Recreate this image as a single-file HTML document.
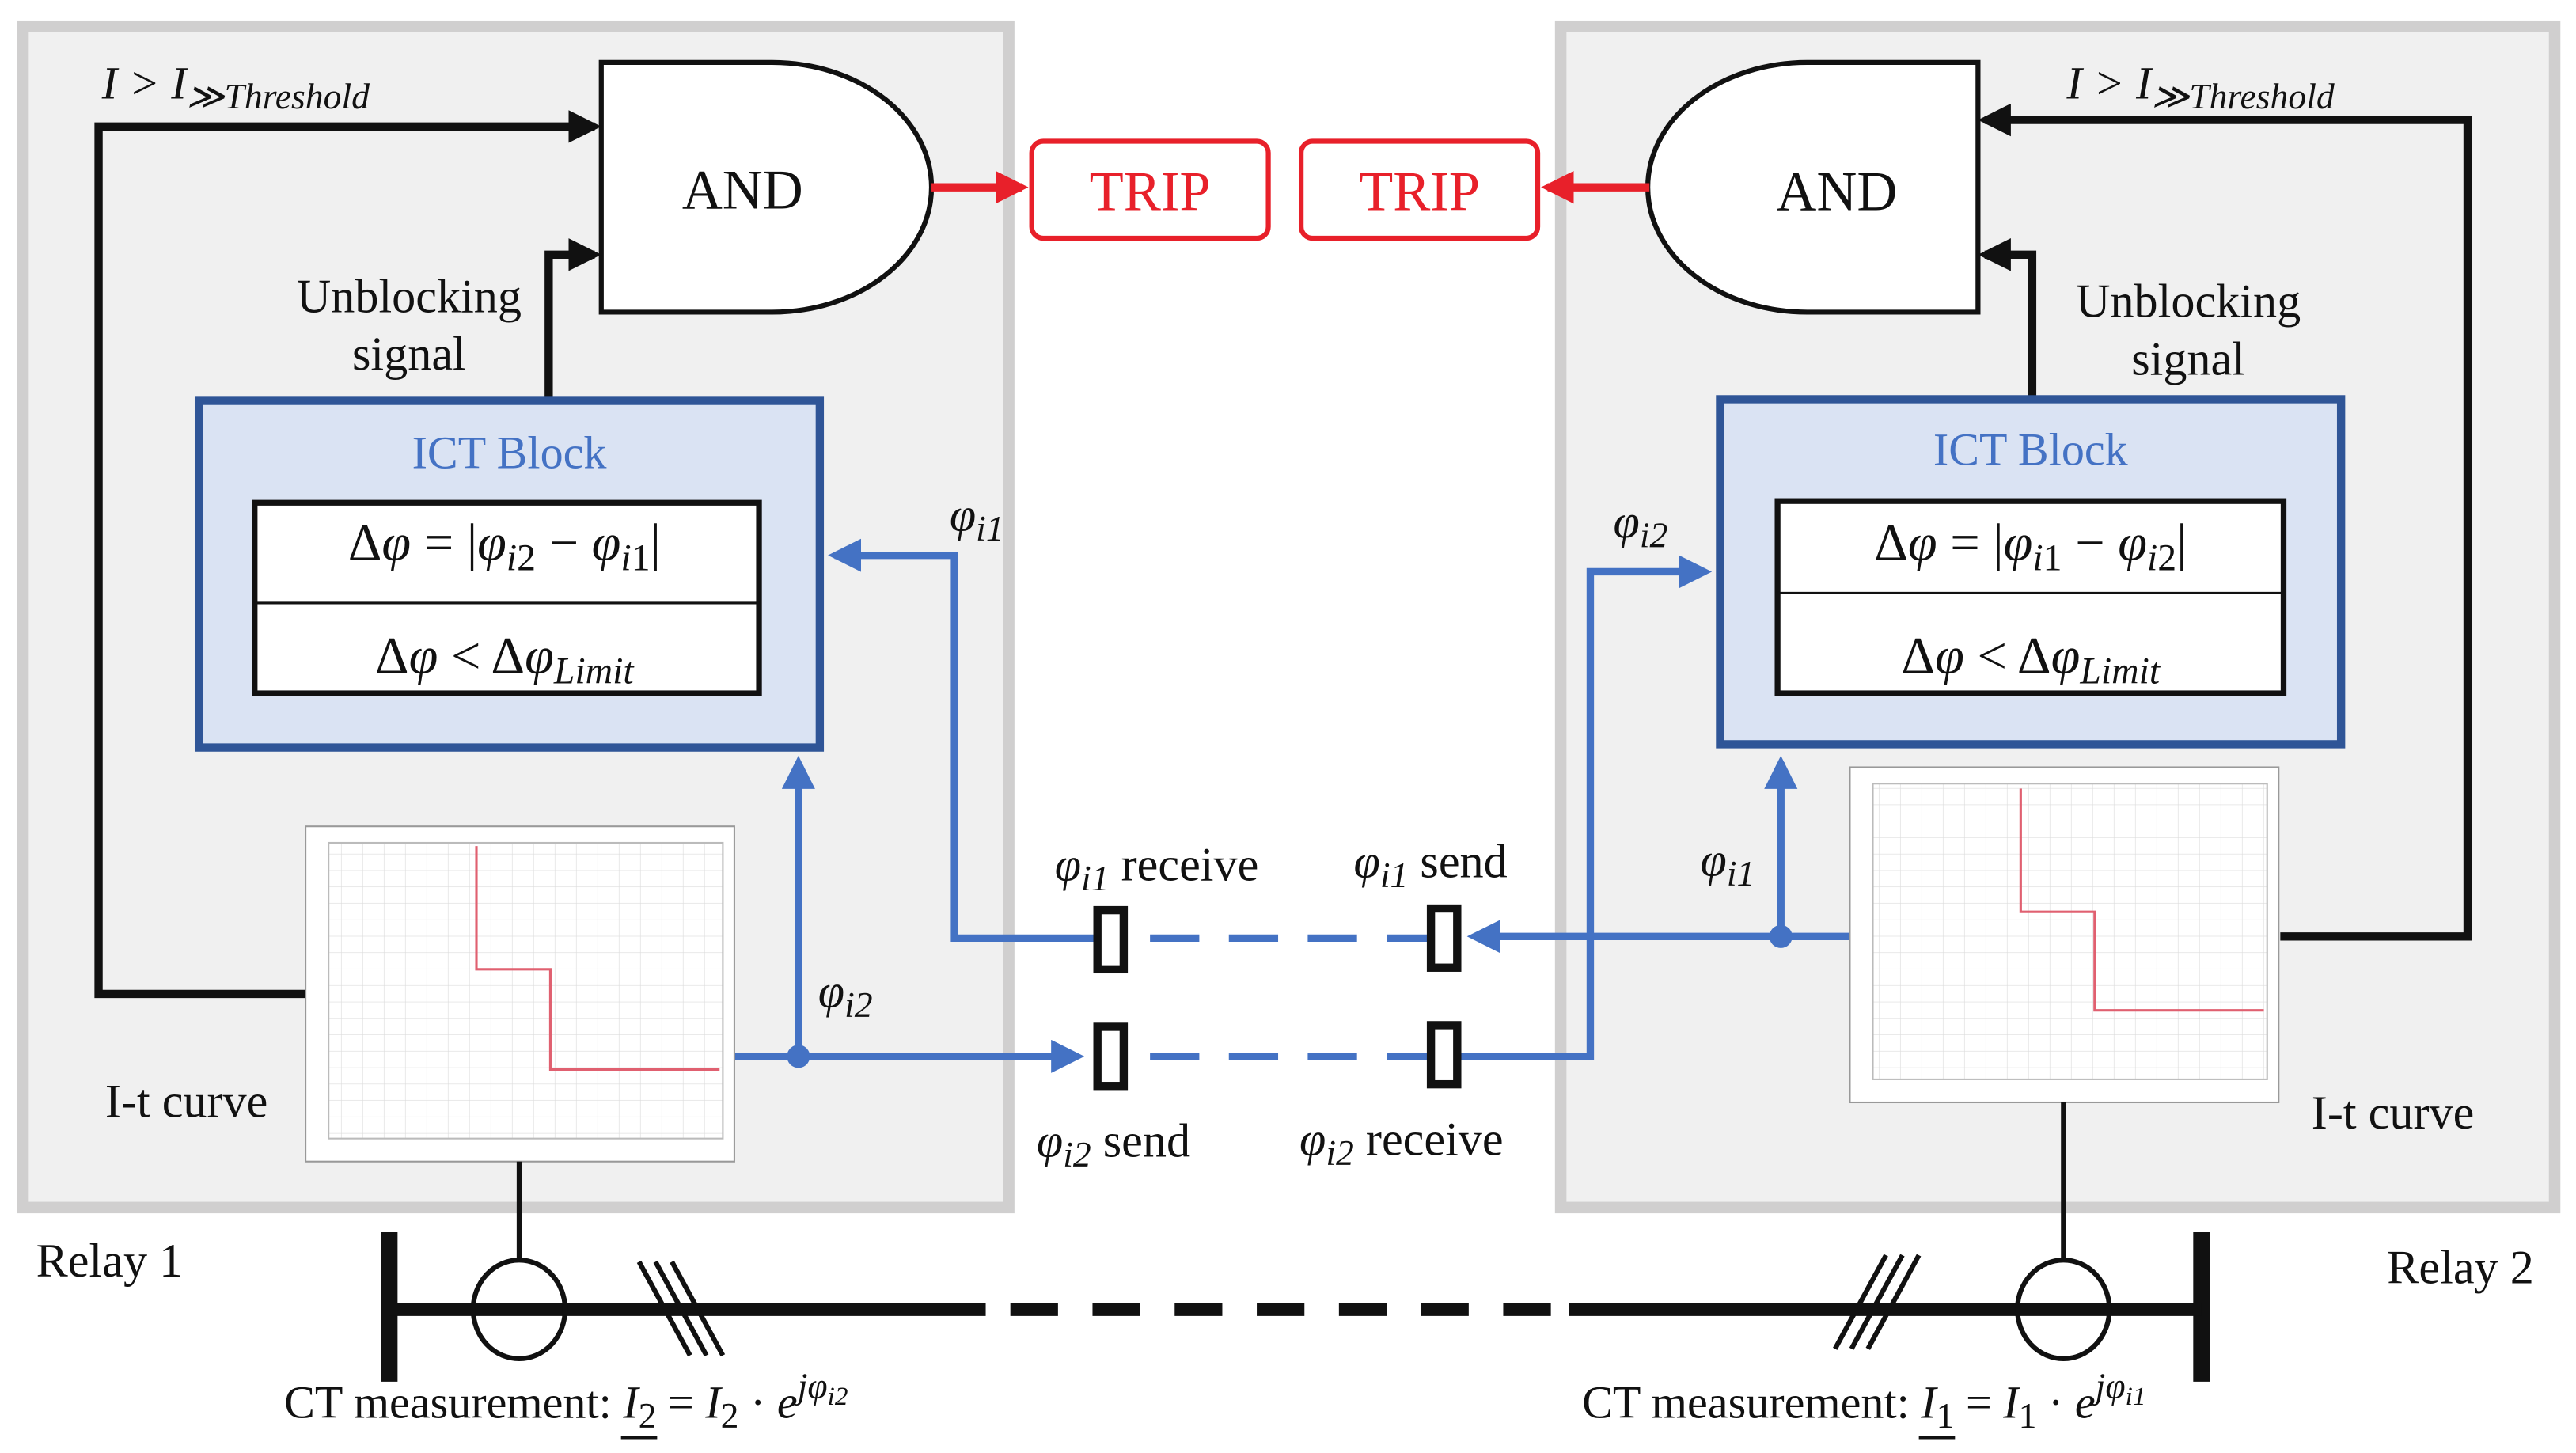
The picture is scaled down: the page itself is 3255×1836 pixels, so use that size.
<!DOCTYPE html>
<html><head><meta charset="utf-8"><style>
html,body{margin:0;padding:0;background:#fff}
svg{display:block}
text{font-family:"Liberation Serif",serif;fill:#111}
.it{font-style:italic}
</style></head><body>
<svg width="3255" height="1836" viewBox="0 0 1568 884.4" preserveAspectRatio="none" xmlns="http://www.w3.org/2000/svg">
<defs>
<marker id="ab" markerWidth="4" markerHeight="4" refX="3.2" refY="2" orient="auto" markerUnits="strokeWidth"><path d="M0,0L4,2L0,4z" fill="#111"/></marker>
<marker id="abl" markerWidth="4.5" markerHeight="4.5" refX="3.6" refY="2.25" orient="auto" markerUnits="strokeWidth"><path d="M0,0L4.5,2.25L0,4.5z" fill="#4472c4"/></marker>
<marker id="ar" markerWidth="4" markerHeight="4" refX="3.2" refY="2" orient="auto" markerUnits="strokeWidth"><path d="M0,0L4,2L0,4z" fill="#e8202a"/></marker>
<pattern id="grid" width="13" height="10" patternUnits="userSpaceOnUse"><path d="M13,0V10M0,10H13" stroke="#dcdcdc" stroke-width="0.6" fill="none"/></pattern>
</defs>
<rect x="14" y="16" width="600" height="719" fill="#f0f0f0" stroke="#d0cfcf" stroke-width="7"/>
<rect x="950" y="16" width="605" height="719" fill="#f0f0f0" stroke="#d0cfcf" stroke-width="7"/>

<polyline points="186,605 60,605 60,77 362,77" fill="none" stroke="#111" stroke-width="5" marker-end="url(#ab)"/>
<polyline points="334,243 334,155 362,155" fill="none" stroke="#111" stroke-width="5" marker-end="url(#ab)"/>
<polyline points="1388,570 1502,570 1502,73 1208,73" fill="none" stroke="#111" stroke-width="5" marker-end="url(#ab)"/>
<polyline points="1237,243 1237,155 1208,155" fill="none" stroke="#111" stroke-width="5" marker-end="url(#ab)"/>

<path d="M366,38H470A97,76 0 0 1 470,190H366Z" fill="#fff" stroke="#111" stroke-width="3"/>
<text x="452" y="127" font-size="34" text-anchor="middle">AND</text>
<path d="M1204,38H1100A97,76 0 0 0 1100,190H1204Z" fill="#fff" stroke="#111" stroke-width="3"/>
<text x="1118" y="128" font-size="34" text-anchor="middle">AND</text>

<line x1="567" y1="114" x2="622" y2="114" stroke="#e8202a" stroke-width="5" marker-end="url(#ar)"/>
<rect x="628" y="86" width="144" height="59" rx="7" fill="#fff" stroke="#e8202a" stroke-width="3"/>
<text x="700" y="128" font-size="34" text-anchor="middle" style="fill:#e8202a">TRIP</text>
<line x1="1004" y1="114" x2="942" y2="114" stroke="#e8202a" stroke-width="5" marker-end="url(#ar)"/>
<rect x="792" y="86" width="144" height="59" rx="7" fill="#fff" stroke="#e8202a" stroke-width="3"/>
<text x="864" y="128" font-size="34" text-anchor="middle" style="fill:#e8202a">TRIP</text>

<text x="62" y="60" font-size="28" class="it">I &gt; I<tspan font-size="22" dy="6">≫Threshold</tspan></text>
<text x="1258" y="60" font-size="28" class="it">I &gt; I<tspan font-size="22" dy="6">≫Threshold</tspan></text>
<text x="249" y="190" font-size="29" text-anchor="middle">Unblocking</text>
<text x="249" y="225" font-size="29" text-anchor="middle">signal</text>
<text x="1332" y="193" font-size="29" text-anchor="middle">Unblocking</text>
<text x="1332" y="228" font-size="29" text-anchor="middle">signal</text>

<rect x="121" y="244" width="378" height="211" fill="#dae3f3" stroke="#2f5597" stroke-width="5"/>
<text x="310" y="285" font-size="28" text-anchor="middle" style="fill:#4472c4">ICT Block</text>
<rect x="155" y="306" width="307" height="116" fill="#fff" stroke="#111" stroke-width="3.5"/>
<line x1="155" y1="367" x2="462" y2="367" stroke="#111" stroke-width="1.5"/>
<text x="307" y="341" font-size="32" text-anchor="middle">Δ<tspan class="it">φ</tspan> = |<tspan class="it">φ</tspan><tspan class="it" font-size="23" dy="6">i</tspan><tspan font-size="23">2</tspan><tspan dy="-6"> − </tspan><tspan class="it">φ</tspan><tspan class="it" font-size="23" dy="6">i</tspan><tspan font-size="23">1</tspan><tspan dy="-6">|</tspan></text>
<text x="307" y="410" font-size="32" text-anchor="middle">Δ<tspan class="it">φ</tspan> &lt; Δ<tspan class="it">φ</tspan><tspan class="it" font-size="23" dy="6">Limit</tspan></text>

<rect x="1047" y="243" width="378" height="210" fill="#dae3f3" stroke="#2f5597" stroke-width="5"/>
<text x="1236" y="283" font-size="28" text-anchor="middle" style="fill:#4472c4">ICT Block</text>
<rect x="1082" y="305" width="308" height="117" fill="#fff" stroke="#111" stroke-width="3.5"/>
<line x1="1082" y1="361" x2="1390" y2="361" stroke="#111" stroke-width="1.5"/>
<text x="1236" y="341" font-size="32" text-anchor="middle">Δ<tspan class="it">φ</tspan> = |<tspan class="it">φ</tspan><tspan class="it" font-size="23" dy="6">i</tspan><tspan font-size="23">1</tspan><tspan dy="-6"> − </tspan><tspan class="it">φ</tspan><tspan class="it" font-size="23" dy="6">i</tspan><tspan font-size="23">2</tspan><tspan dy="-6">|</tspan></text>
<text x="1236" y="410" font-size="32" text-anchor="middle">Δ<tspan class="it">φ</tspan> &lt; Δ<tspan class="it">φ</tspan><tspan class="it" font-size="23" dy="6">Limit</tspan></text>

<g stroke="#4472c4" stroke-width="4.5" fill="none">
<polyline points="667,571 581,571 581,338 508,338" marker-end="url(#abl)"/>
<polyline points="447,643 656,643" marker-end="url(#abl)"/>
<polyline points="486,643 486,464" marker-end="url(#abl)"/>
<polyline points="1127,570 897,570" marker-end="url(#abl)"/>
<polyline points="1084,570 1084,464" marker-end="url(#abl)"/>
<polyline points="889,643 968,643 968,348 1038,348" marker-end="url(#abl)"/>
<line x1="686" y1="571" x2="869" y2="571" stroke-dasharray="30,18" stroke-dashoffset="-14"/>
<line x1="686" y1="643" x2="869" y2="643" stroke-dasharray="30,18" stroke-dashoffset="-14"/>
</g>
<circle cx="486" cy="643" r="7" fill="#4472c4"/>
<circle cx="1084" cy="570" r="7" fill="#4472c4"/>
<g fill="#fff" stroke="#111" stroke-width="5">
<rect x="668" y="554" width="16" height="36"/>
<rect x="668" y="625" width="16" height="36"/>
<rect x="871" y="553" width="16" height="36"/>
<rect x="871" y="624" width="16" height="36"/>
</g>
<g font-size="29">
<text x="578" y="323" class="it">φ<tspan font-size="22" dy="6">i1</tspan></text>
<text x="498" y="613" class="it">φ<tspan font-size="22" dy="6">i2</tspan></text>
<text x="982" y="327" class="it">φ<tspan font-size="22" dy="6">i2</tspan></text>
<text x="1035" y="533" class="it">φ<tspan font-size="22" dy="6">i1</tspan></text>
<text x="642" y="536"><tspan class="it">φ</tspan><tspan class="it" font-size="22" dy="6">i1</tspan><tspan dy="-6"> receive</tspan></text>
<text x="824" y="534"><tspan class="it">φ</tspan><tspan class="it" font-size="22" dy="6">i1</tspan><tspan dy="-6"> send</tspan></text>
<text x="631" y="704"><tspan class="it">φ</tspan><tspan class="it" font-size="22" dy="6">i2</tspan><tspan dy="-6"> send</tspan></text>
<text x="791" y="703"><tspan class="it">φ</tspan><tspan class="it" font-size="22" dy="6">i2</tspan><tspan dy="-6"> receive</tspan></text>
<text x="64" y="680">I-t curve</text>
<text x="1407" y="687">I-t curve</text>
<text x="22" y="777">Relay 1</text>
<text x="1453" y="781">Relay 2</text>
</g>

<rect x="186" y="503" width="261" height="204" fill="#fff" stroke="#999" stroke-width="1"/>
<rect x="200" y="513" width="240" height="180" fill="url(#grid)" stroke="#bbb" stroke-width="1"/>
<polyline points="290,515 290,590 335,590 335,651 438,651" fill="none" stroke="#e06070" stroke-width="1.5"/>
<rect x="1126" y="467" width="261" height="204" fill="#fff" stroke="#999" stroke-width="1"/>
<rect x="1140" y="477" width="240" height="180" fill="url(#grid)" stroke="#bbb" stroke-width="1"/>
<polyline points="1230,480 1230,555 1275,555 1275,615 1378,615" fill="none" stroke="#e06070" stroke-width="1.5"/>

<g stroke="#111" fill="none">
<line x1="316" y1="707" x2="316" y2="768" stroke-width="3"/>
<line x1="1256" y1="671" x2="1256" y2="768" stroke-width="3"/>
<line x1="237" y1="750" x2="237" y2="841" stroke-width="10"/>
<line x1="1340" y1="750" x2="1340" y2="841" stroke-width="10"/>
<line x1="237" y1="797" x2="600" y2="797" stroke-width="8"/>
<line x1="600" y1="797" x2="955" y2="797" stroke-width="8" stroke-dasharray="29,21" stroke-dashoffset="-15"/>
<line x1="955" y1="797" x2="1340" y2="797" stroke-width="8"/>
<ellipse cx="316" cy="797" rx="28" ry="30" stroke-width="3"/>
<ellipse cx="1256" cy="797" rx="28" ry="30" stroke-width="3"/>
<g stroke-width="3">
<line x1="389" y1="768" x2="420" y2="825"/><line x1="399" y1="768" x2="430" y2="825"/><line x1="409" y1="768" x2="440" y2="825"/>
<line x1="1148" y1="764" x2="1117" y2="821"/><line x1="1158" y1="764" x2="1127" y2="821"/><line x1="1168" y1="764" x2="1137" y2="821"/>
</g>
</g>
<g font-size="28">
<text x="173" y="863">CT measurement: <tspan class="it">I</tspan><tspan font-size="22" dy="6">2</tspan><tspan dy="-6"> = </tspan><tspan class="it">I</tspan><tspan font-size="22" dy="6">2</tspan><tspan dy="-6"> · </tspan><tspan class="it">e</tspan><tspan class="it" font-size="22" dy="-12">jφ</tspan><tspan class="it" font-size="16" dy="4">i2</tspan></text>
<text x="963" y="863">CT measurement: <tspan class="it">I</tspan><tspan font-size="22" dy="6">1</tspan><tspan dy="-6"> = </tspan><tspan class="it">I</tspan><tspan font-size="22" dy="6">1</tspan><tspan dy="-6"> · </tspan><tspan class="it">e</tspan><tspan class="it" font-size="22" dy="-12">jφ</tspan><tspan class="it" font-size="16" dy="4">i1</tspan></text>
</g>
<line x1="378" y1="875" x2="400" y2="875" stroke="#111" stroke-width="2"/>
<line x1="1168" y1="875" x2="1190" y2="875" stroke="#111" stroke-width="2"/>
</svg>
</body></html>
